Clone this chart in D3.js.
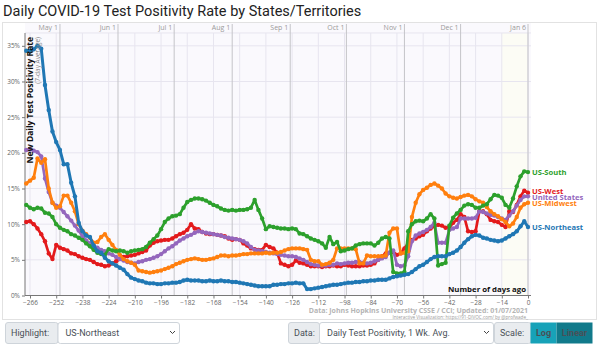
<!DOCTYPE html>
<html lang="en">
<head>
<meta charset="UTF-8">
<title>Daily COVID-19 Test Positivity Rate by States/Territories</title>
<script src="https://cdn.jsdelivr.net/npm/d3@7"></script>
<style>
    body { margin: 0; background: #fff; }
    svg { display: block; font-family: "Open Sans", sans-serif; }
    .title { font-family: Roboto, sans-serif; font-size: 14.5px; fill: #222; }
    .tick text { font-size: 6.5px; fill: #666; font-family: "Open Sans", sans-serif; }
    .tick line { stroke: #777; }
    .month { font-size: 7px; fill: #9a9a9a; }
    .series-label { font-size: 7.6px; font-weight: 700; }
    .ctl { font-family: Roboto, sans-serif; font-size: 9px; fill: #495057; }
</style>
</head>
<body>
<svg id="chart" width="600" height="345"></svg>
<script>
    // sampled every 2 days, from 268 days ago up to today (0)
    const firstDay = -268, dayStep = 2;

    const northeast = [
        34.3, 34.3, 34.5, 35.0, 34.6, 29.5, 26.0, 23.0, 21.5, 20.4,
        18.4, 18.4, 15.8, 13.9, 10.2, 9.0, 8.4, 8.2, 7.0, 6.2,
        6.0, 5.3, 4.8, 4.5, 4.2, 3.9, 3.6, 3.0, 2.5, 2.3,
        2.1, 2.0, 1.8, 1.7, 1.7, 1.6, 1.6, 1.7, 1.7, 1.8,
        1.8, 1.9, 2.1, 2.2, 2.1, 2.1, 2.1, 2.0, 2.0, 2.1,
        2.0, 2.0, 2.1, 2.0, 2.0, 1.9, 1.9, 1.8, 1.7, 1.6,
        1.5, 1.4, 1.3, 1.3, 1.3, 1.3, 1.5, 1.5, 1.6, 1.6,
        1.7, 1.7, 1.8, 1.7, 1.7, 0.9, 0.9, 1.0, 1.1, 1.2,
        1.3, 1.4, 1.5, 1.5, 1.6, 1.7, 1.8, 1.8, 1.9, 1.9,
        2.0, 2.0, 2.1, 2.1, 2.2, 2.2, 2.2, 2.4, 2.6, 2.7,
        2.8, 2.9, 3.0, 3.3, 3.7, 4.1, 4.3, 4.7, 5.1, 5.4,
        5.5, 5.5, 5.5, 5.8, 6.0, 6.3, 6.8, 7.4, 7.9, 8.3,
        8.5, 8.4, 8.1, 8.0, 7.8, 7.7, 7.6, 7.7, 8.0, 8.3,
        8.6, 9.0, 9.7, 10.4, 9.6
    ];
    const south = [
        12.7, 12.3, 12.1, 12.3, 12.2, 11.6, 11.5, 11.0, 10.0, 9.5,
        9.2, 9.0, 8.6, 8.4, 8.1, 7.8, 7.3, 6.9, 6.4, 6.0,
        5.8, 5.7, 6.5, 6.3, 6.2, 6.3, 6.2, 6.0, 6.2, 6.3,
        6.4, 6.5, 6.8, 7.4, 7.9, 8.4, 9.3, 10.3, 10.8, 11.1,
        11.2, 11.4, 12.3, 13.1, 13.4, 13.6, 13.6, 13.5, 13.3, 13.0,
        12.7, 12.5, 12.2, 12.0, 11.9, 12.0, 11.9, 12.0, 12.0, 12.1,
        12.3, 13.4, 12.0, 10.8, 9.3, 9.7, 9.6, 9.5, 9.4, 9.4,
        9.3, 9.4, 9.3, 8.7, 8.6, 8.3, 8.0, 7.8, 7.6, 7.3,
        6.7, 8.2, 7.2, 7.5, 6.2, 6.3, 6.5, 6.6, 7.0, 7.2,
        7.3, 7.3, 7.3, 7.0, 7.4, 8.0, 8.2, 8.0, 3.3, 3.1,
        3.1, 3.3, 9.0, 10.0, 10.4, 10.5, 10.4, 10.8, 11.4, 10.8,
        4.2, 4.4, 4.6, 9.8, 10.9, 11.5, 12.0, 12.6, 12.8, 12.7,
        12.3, 12.3, 12.6, 12.8, 13.5, 14.1, 14.0, 13.7, 12.7, 12.3,
        13.6, 15.3, 16.7, 17.4, 17.3
    ];
    const west = [
        10.3, 10.4, 10.0, 9.4, 8.6, 7.6, 5.9, 5.1, 7.1, 6.7,
        6.5, 6.3, 5.9, 5.8, 5.5, 5.3, 5.1, 5.0, 4.7, 4.4,
        4.3, 4.1, 4.2, 4.5, 4.8, 5.1, 5.4, 5.5, 5.6, 5.7,
        5.9, 6.1, 6.3, 7.0, 7.4, 7.6, 7.7, 7.8, 7.8, 8.0,
        8.3, 8.6, 8.8, 9.2, 10.0, 9.4, 9.3, 8.9, 8.7, 8.6,
        8.6, 8.5, 8.4, 8.3, 8.0, 7.8, 7.9, 7.8, 7.3, 7.0,
        6.6, 6.5, 6.4, 6.4, 7.1, 6.8, 6.6, 6.0, 4.5, 4.3,
        4.1, 4.3, 4.9, 4.6, 4.5, 4.3, 4.1, 4.1, 4.1, 4.0,
        4.1, 4.1, 4.2, 4.1, 4.1, 4.3, 4.2, 4.1, 4.1, 4.1,
        4.2, 4.2, 4.3, 4.5, 5.0, 5.5, 5.9, 6.0, 6.1, 5.7,
        5.9, 6.6, 7.3, 7.8, 8.0, 8.3, 8.5, 9.0, 9.4, 9.7,
        9.9, 9.8, 9.5, 9.5, 10.2, 10.6, 11.4, 11.0, 9.0, 8.9,
        9.0, 11.8, 11.8, 11.4, 10.6, 10.4, 10.3, 9.9, 9.6, 11.8,
        11.7, 12.7, 13.9, 14.7, 14.4
    ];
    const unitedStates = [
        20.4, 20.5, 20.3, 20.1, 19.5, 16.4, 14.5, 13.0, 12.6, 12.3,
        11.7, 11.1, 10.5, 9.8, 9.1, 8.3, 7.7, 7.3, 7.0, 6.7,
        6.4, 6.2, 5.9, 5.7, 5.4, 5.1, 4.9, 4.7, 4.6, 4.5,
        4.7, 4.8, 5.0, 5.1, 5.3, 5.5, 5.8, 6.2, 6.6, 6.9,
        7.3, 7.7, 8.0, 8.3, 8.5, 8.8, 9.0, 8.9, 8.8, 8.7,
        8.6, 8.5, 8.4, 8.2, 8.1, 8.0, 7.9, 7.8, 7.6, 7.3,
        6.8, 6.4, 6.3, 6.2, 6.1, 6.0, 5.9, 5.8, 5.7, 5.6,
        5.5, 5.5, 5.4, 5.2, 5.0, 4.7, 4.4, 4.3, 4.2, 4.2,
        4.2, 4.3, 4.3, 4.5, 4.4, 4.5, 4.6, 4.6, 4.7, 4.7,
        4.6, 4.5, 4.6, 4.8, 5.0, 5.2, 5.4, 6.0, 6.3, 4.3,
        4.1, 4.2, 5.5, 7.6, 8.4, 8.7, 8.9, 9.2, 9.6, 10.2,
        7.4, 7.4, 7.4, 9.2, 9.4, 9.6, 10.8, 10.8, 10.8, 10.8,
        10.9, 11.8, 11.7, 11.5, 11.3, 11.2, 11.0, 10.8, 10.6, 11.2,
        11.8, 12.6, 13.4, 13.9, 13.9
    ];
    const midwest = [
        15.7, 16.1, 16.5, 19.2, 18.6, 19.1, 15.0, 13.0, 12.3, 12.5,
        14.0, 14.0, 13.0, 11.8, 10.0, 9.1, 8.6, 8.1, 7.4, 7.5,
        8.2, 8.6, 7.8, 7.1, 6.4, 5.7, 5.1, 4.8, 4.6, 4.3,
        3.5, 3.4, 3.3, 3.2, 3.3, 3.4, 3.5, 3.7, 3.9, 4.1,
        4.4, 4.6, 4.8, 5.0, 5.1, 5.2, 5.1, 5.0, 5.0, 5.1,
        5.2, 5.4, 5.6, 5.6, 5.5, 5.6, 5.6, 5.7, 5.8, 5.8,
        5.9, 5.9, 5.9, 5.9, 6.0, 5.9, 6.0, 6.0, 6.1, 6.3,
        6.5, 6.6, 6.6, 6.6, 6.5, 6.4, 5.0, 4.8, 4.8, 4.3,
        4.4, 4.6, 5.0, 6.6, 6.6, 6.6, 6.6, 6.6, 6.5, 4.5,
        4.5, 5.6, 5.5, 5.5, 5.5, 5.5, 5.6, 8.8, 9.4, 9.4,
        5.9, 6.0, 6.2, 11.0, 13.0, 14.2, 14.8, 15.1, 15.5, 15.7,
        15.4, 15.0, 14.3, 13.9, 13.7, 13.6, 13.8, 14.0, 14.1, 13.9,
        13.5, 13.2, 13.0, 12.4, 11.8, 11.4, 11.1, 10.7, 10.3, 9.7,
        10.1, 11.0, 12.3, 12.8, 13.0
    ];

    const seriesNames = ["US-West", "United States", "US-Midwest", "US-South", "US-Northeast"];
    const seriesValues = [west, unitedStates, midwest, south, northeast];
    const seriesColors = ["#e31a1c", "#9467bd", "#ff7f0e", "#2ca02c", "#1f77b4"];

    const yTicks = [0, 5, 10, 15, 20, 25, 30, 35];
    const xTicks = d3.range(-266, 1, 14);
    const monthLabels = ["May 1", "Jun 1", "Jul 1", "Aug 1", "Sep 1", "Oct 1", "Nov 1", "Dec 1", "Jan 6"];
    const monthDays = [-250, -219, -189, -158, -127, -97, -66, -36, 0];

    const svg = d3.select("#chart");
    const plot = {left: 25, right: 531, top: 33, bottom: 295.5};

    const x = d3.scaleLinear().domain([-266, 0]).range([30, 528]);
    const y = d3.scaleLinear().domain([0, 35]).range([295.5, 45.8]);

    svg.append("text").attr("class", "title")
        .attr("x", 3).attr("y", 16)
        .text("Daily COVID-19 Test Positivity Rate by States/Territories");

    // outer card
    svg.append("rect")
        .attr("x", 2.5).attr("y", 22.5).attr("width", 594).attr("height", 297)
        .attr("fill", "#fff").attr("stroke", "#e2e2e2");

    // plot background
    svg.append("rect")
        .attr("x", plot.left).attr("y", 23)
        .attr("width", plot.right - plot.left).attr("height", plot.bottom - 23)
        .attr("fill", "#faf9fd");

    // recent (incomplete) window
    svg.append("rect")
        .attr("x", x(-14)).attr("y", plot.top)
        .attr("width", x(0) - x(-14)).attr("height", plot.bottom - plot.top)
        .attr("fill", "#fcfcf5");

    const grid = svg.append("g");
    grid.selectAll(".hgrid").data(yTicks.concat([36.8]))
        .enter().append("line")
        .attr("x1", plot.left).attr("x2", plot.right)
        .attr("y1", d => y(d)).attr("y2", d => y(d))
        .attr("stroke", "#e7e5ef");
    grid.selectAll(".vgrid").data(xTicks)
        .enter().append("line")
        .attr("x1", d => x(d)).attr("x2", d => x(d))
        .attr("y1", plot.top).attr("y2", plot.bottom)
        .attr("stroke", "#e7e5ef");
    grid.selectAll(".mline").data(monthDays)
        .enter().append("line")
        .attr("x1", d => x(d)).attr("x2", d => x(d))
        .attr("y1", 24).attr("y2", plot.bottom)
        .attr("stroke", "#c4c4c8");
    grid.selectAll(".mlabel").data(monthDays)
        .enter().append("text")
        .attr("class", "month")
        .attr("x", d => x(d) - 2).attr("y", 30)
        .attr("text-anchor", "end")
        .text((d, i) => monthLabels[i]);

    // axes
    const yAxis = svg.append("g")
        .attr("transform", `translate(${plot.left},0)`)
        .call(d3.axisLeft(y).tickValues(yTicks).tickSize(3).tickPadding(2).tickFormat(d => d + "%"));
    yAxis.select(".domain").remove();
    svg.append("line")
        .attr("x1", plot.left).attr("x2", plot.left)
        .attr("y1", plot.top).attr("y2", plot.bottom)
        .attr("stroke", "#777");

    const xAxis = svg.append("g")
        .attr("transform", `translate(0,${plot.bottom})`)
        .call(d3.axisBottom(x).tickValues(xTicks).tickSize(3).tickPadding(2));
    xAxis.select(".domain").remove();
    svg.append("line")
        .attr("x1", plot.left).attr("x2", plot.right)
        .attr("y1", plot.bottom).attr("y2", plot.bottom)
        .attr("stroke", "#777");

    // series
    const line = d3.line()
        .x((d, i) => x(firstDay + i * dayStep))
        .y(d => y(d));

    seriesValues.forEach((vals, k) => {
        const g = svg.append("g");
        g.append("path")
            .datum(vals)
            .attr("fill", "none")
            .attr("stroke", seriesColors[k])
            .attr("stroke-width", k === 4 ? 3 : 2.7)
            .attr("stroke-linejoin", "round")
            .attr("d", line);
        g.selectAll("circle").data(vals)
            .enter().append("circle")
            .attr("cx", (d, i) => x(firstDay + i * dayStep))
            .attr("cy", d => y(d))
            .attr("r", 2.2)
            .attr("fill", seriesColors[k]);
    });

    // end labels, nudged apart
    const ends = seriesNames.map((name, k) => ({
        name, color: seriesColors[k],
        y: y(seriesValues[k][seriesValues[k].length - 1])
    })).sort((a, b) => a.y - b.y);
    for (let pass = 0; pass < 20; pass++) {
        for (let i = 1; i < ends.length; i++) {
            const gap = ends[i].y - ends[i - 1].y;
            if (gap < 6.4) {
                const shift = (6.4 - gap) / 2;
                ends[i - 1].y -= shift;
                ends[i].y += shift;
            }
        }
    }
    svg.selectAll(".series-label").data(ends)
        .enter().append("text")
        .attr("class", "series-label")
        .attr("x", 532).attr("y", d => d.y)
        .attr("dy", "0.35em")
        .attr("fill", d => d.color)
        .text(d => d.name);

    // y axis title
    svg.append("text")
        .attr("transform", "translate(33,37) rotate(-90)")
        .attr("text-anchor", "end")
        .attr("font-size", 8.5).attr("font-weight", 700).attr("fill", "#111")
        .text("New Daily Test Positivity Rate");
    svg.append("text")
        .attr("transform", "translate(39.5,37) rotate(-90)")
        .attr("text-anchor", "end")
        .attr("font-size", 6.5).attr("fill", "#888")
        .text("(7-day Average)");

    svg.append("text")
        .attr("x", 526).attr("y", 292)
        .attr("text-anchor", "end")
        .attr("font-size", 7.8).attr("font-weight", 700).attr("fill", "#111")
        .text("Number of days ago");

    svg.append("text")
        .attr("x", 528).attr("y", 313)
        .attr("text-anchor", "end")
        .attr("font-size", 7).attr("font-weight", 700).attr("fill", "#b5b5b5")
        .text("Data: Johns Hopkins University CSSE / CCI; Updated: 01/07/2021");
    svg.append("text")
        .attr("x", 528).attr("y", 318.5)
        .attr("text-anchor", "end")
        .attr("font-size", 4.6).attr("fill", "#999")
        .text("Interactive Visualization: https://91-DIVOC.com/ by @profwade_");

    // controls row
    const ctl = svg.append("g");
    function labelBox(x0, x1, text) {
        ctl.append("rect").attr("x", x0 + 0.5).attr("y", 322.5)
            .attr("width", x1 - x0).attr("height", 21).attr("rx", 2.5)
            .attr("fill", "#e9ecef").attr("stroke", "#ced4da");
        ctl.append("text").attr("class", "ctl").attr("x", x0 + 6).attr("y", 336).text(text);
    }
    function selectBox(x0, x1, text) {
        ctl.append("rect").attr("x", x0 + 0.5).attr("y", 322.5)
            .attr("width", x1 - x0).attr("height", 21).attr("rx", 2.5)
            .attr("fill", "#fff").attr("stroke", "#ced4da");
        ctl.append("text").attr("class", "ctl").attr("x", x0 + 8).attr("y", 336).text(text);
        ctl.append("path")
            .attr("d", `M${x1 - 9},331 l2.5,2.5 l2.5,-2.5`)
            .attr("fill", "none").attr("stroke", "#444").attr("stroke-width", 1);
    }
    labelBox(5, 57.5, "Highlight:");
    selectBox(57.5, 179, "US-Northeast");
    labelBox(288, 319, "Data:");
    selectBox(319, 493, "Daily Test Positivity, 1 Wk. Avg.");
    labelBox(494, 530.5, "Scale:");
    ctl.append("rect").attr("x", 530.5).attr("y", 322.5).attr("width", 26).attr("height", 21)
        .attr("fill", "#17a2b8");
    ctl.append("rect").attr("x", 556.5).attr("y", 322.5).attr("width", 36).attr("height", 21)
        .attr("fill", "#117a8b");
    ctl.append("text").attr("class", "ctl").attr("x", 543.5).attr("y", 336)
        .attr("text-anchor", "middle").attr("fill", "#fff").attr("font-weight", 700).text("Log");
    ctl.append("text").attr("class", "ctl").attr("x", 574.5).attr("y", 336)
        .attr("text-anchor", "middle").attr("fill", "#fff").attr("font-weight", 700).text("Linear");
</script>
</body>
</html>
